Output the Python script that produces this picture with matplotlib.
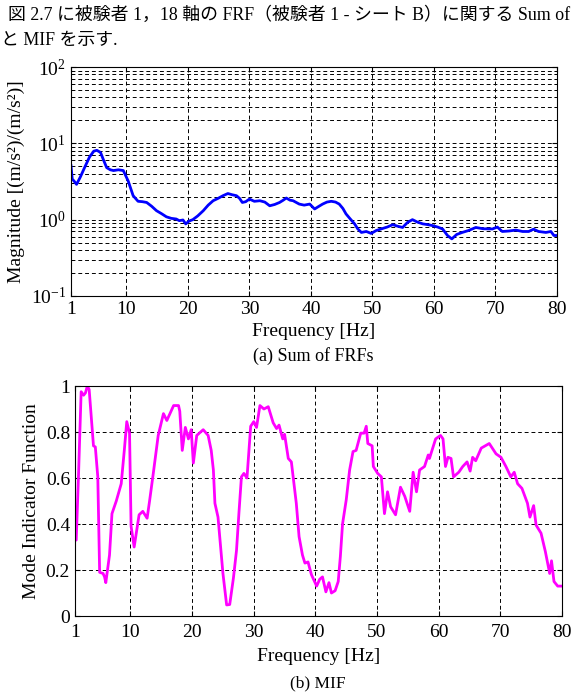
import numpy as np
import matplotlib
matplotlib.use("Agg")
import matplotlib.pyplot as plt
from matplotlib.ticker import LogLocator, NullFormatter

plt.rcParams['font.family'] = ['Liberation Serif', 'Noto Sans CJK JP', 'DejaVu Sans']
plt.rcParams['mathtext.fontset'] = 'stix'

# (a) Sum of FRFs
freq_a = [1.0, 1.2, 1.5, 1.9, 2.5, 3.2, 4.0, 4.7, 5.2, 5.8, 6.3, 6.8, 7.4, 7.9, 8.7,
          9.5, 10.3, 11.1, 11.9, 12.6, 13.3, 14.1, 14.9, 15.7, 16.5, 17.3, 18.1, 18.6,
          19.2, 19.65, 20.2, 20.8, 21.6, 22.5, 23.3, 24.1, 24.9, 25.7, 26.5, 27.2, 27.9,
          28.4, 28.85, 29.4, 30.0, 30.8, 31.7, 32.5, 33.3, 34.1, 34.9, 35.5, 36.0, 36.6,
          37.1, 38.1, 38.9, 39.8, 40.6, 41.2, 41.9, 42.6, 43.3, 44.0, 44.6, 45.2, 45.7,
          46.4, 47.1, 47.6, 48.2, 49.0, 49.8, 50.6, 51.4, 52.4, 53.3, 54.1, 54.9, 55.7,
          56.5, 57.3, 58.2, 59.0, 59.8, 60.6, 61.4, 62.2, 62.9, 63.7, 64.6, 65.6, 66.8,
          68.0, 69.5, 70.3, 71.1, 72.2, 73.3, 74.4, 75.4, 76.2, 77.0, 78.2, 79.0, 79.5, 80.0]
sum_frf = [5.1, 3.4, 3.2, 2.9, 3.6, 4.8, 6.6, 7.9, 8.1, 7.6, 6.0, 4.8, 4.5, 4.4, 4.5,
           4.4, 3.2, 2.06, 1.74, 1.72, 1.68, 1.5, 1.31, 1.2, 1.09, 1.04, 1.02, 0.97,
           0.99, 0.88, 0.96, 1.0, 1.12, 1.31, 1.55, 1.77, 1.9, 2.06, 2.2, 2.12, 2.06,
           1.9, 1.68, 1.72, 1.86, 1.74, 1.77, 1.7, 1.52, 1.58, 1.68, 1.8, 1.92, 1.8,
           1.77, 1.6, 1.55, 1.6, 1.38, 1.48, 1.6, 1.7, 1.74, 1.7, 1.6, 1.4, 1.19,
           1.02, 0.88, 0.76, 0.68, 0.70, 0.66, 0.72, 0.755, 0.80, 0.86, 0.82, 0.79, 0.92,
           1.0, 0.93, 0.88, 0.86, 0.835, 0.80, 0.755, 0.62, 0.56, 0.64, 0.68, 0.72, 0.79,
           0.76, 0.755, 0.80, 0.70, 0.71, 0.73, 0.70, 0.70, 0.75, 0.70, 0.68, 0.70, 0.62, 0.62]

# (b) MIF
freq_b = [1.0, 1.2, 1.6, 2.0, 2.4, 2.7, 3.0, 3.3, 3.6, 4.0, 4.3, 4.7, 5.0, 5.55, 5.8,
          6.0, 6.6, 7.0, 7.7, 8.5, 9.0, 9.4, 9.85, 10.1, 10.6, 11.4, 12.0, 12.7, 13.1,
          13.7, 14.5, 15.35, 15.9, 16.4, 17.0, 17.8, 18.0, 18.4, 18.9, 19.4, 19.85, 20.2,
          20.75, 21.8, 22.6, 23.1, 23.45, 23.7, 24.2, 25.0, 25.6, 26.1, 26.7, 27.2, 27.6,
          28.0, 28.4, 28.9, 29.5, 30.0, 30.45, 31.0, 31.65, 32.35, 33.15, 33.7, 34.1,
          34.7, 35.0, 35.6, 36.1, 36.9, 37.35, 37.9, 38.3, 38.8, 39.35, 40.2, 40.7, 41.15,
          41.7, 42.2, 42.6, 43.2, 43.7, 44.05, 44.4, 45.0, 45.55, 46.1, 46.6, 47.35, 47.9,
          48.25, 48.5, 49.2, 49.4, 50.1, 50.7, 51.2, 51.7, 52.2, 53.0, 53.8, 54.5, 55.3,
          55.85, 56.4, 56.9, 57.7, 58.3, 58.5, 59.5, 60.3, 60.7, 61.1, 61.5, 62.0, 62.4,
          63.25, 63.9, 64.6, 65.1, 65.5, 66.0, 66.9, 68.2, 69.3, 70.1, 70.9, 71.7, 72.25,
          72.8, 73.5, 74.4, 74.8, 75.4, 75.8, 76.6, 77.3, 78.0, 78.3, 78.7, 79.3, 80.0]
mif = [0.33, 0.33, 0.635, 0.975, 0.96, 0.97, 1.0, 0.985, 0.88, 0.74, 0.735, 0.605, 0.19,
       0.185, 0.17, 0.145, 0.265, 0.445, 0.5, 0.575, 0.72, 0.845, 0.795, 0.39, 0.3, 0.44,
       0.455, 0.425, 0.5, 0.62, 0.785, 0.88, 0.85, 0.88, 0.915, 0.915, 0.89, 0.72, 0.82,
       0.77, 0.81, 0.665, 0.785, 0.81, 0.785, 0.72, 0.635, 0.49, 0.43, 0.185, 0.048, 0.05,
       0.165, 0.285, 0.45, 0.605, 0.62, 0.6, 0.825, 0.845, 0.82, 0.915, 0.9, 0.91, 0.84,
       0.815, 0.83, 0.77, 0.79, 0.685, 0.67, 0.49, 0.345, 0.265, 0.23, 0.235, 0.18, 0.13,
       0.16, 0.17, 0.105, 0.145, 0.1, 0.11, 0.15, 0.26, 0.4, 0.505, 0.635, 0.715, 0.72,
       0.795, 0.795, 0.825, 0.75, 0.74, 0.65, 0.62, 0.605, 0.445, 0.54, 0.475, 0.44, 0.56,
       0.52, 0.455, 0.625, 0.54, 0.635, 0.65, 0.7, 0.685, 0.77, 0.785, 0.77, 0.65, 0.69,
       0.685, 0.605, 0.625, 0.65, 0.67, 0.63, 0.69, 0.675, 0.73, 0.75, 0.705, 0.69, 0.65,
       0.605, 0.625, 0.575, 0.555, 0.49, 0.43, 0.48, 0.395, 0.36, 0.28, 0.185, 0.24, 0.15,
       0.13, 0.13]

x_ticks = [1, 10, 20, 30, 40, 50, 60, 70, 80]
mif_ticks = [0, 0.2, 0.4, 0.6, 0.8, 1]
mif_tick_labels = ['0', '0.2', '0.4', '0.6', '0.8', '1']

fig = plt.figure(figsize=(5.75, 6.93), dpi=100)

# header text (the page text above the figure)
fig.text(0.014, 0.978, "図 2.7 に被験者 1，18 軸の FRF（被験者 1 - シート B）に関する Sum of",
         fontsize=12.9, va='center', ha='left')
fig.text(0.002, 0.942, "と MIF を示す.", fontsize=12.9, va='center', ha='left')

grid_kw = dict(color='black', linestyle=(0, (4, 3)), linewidth=0.7)
fs = 14

# top: Sum of FRFs
ax1 = fig.add_axes([0.1235, 0.5729, 0.8452, 0.3304])
ax1.semilogy(freq_a, sum_frf, color='#0000ff', linewidth=2)
ax1.set_xlim(1, 80)
ax1.set_ylim(0.1, 100)
ax1.set_xticks(x_ticks)
ax1.yaxis.set_major_locator(LogLocator(base=10, numticks=10))
ax1.yaxis.set_minor_locator(LogLocator(base=10, subs=np.arange(2, 10), numticks=10))
ax1.yaxis.set_minor_formatter(NullFormatter())
ax1.grid(True, which='both', axis='y', **grid_kw)
ax1.grid(True, which='major', axis='x', **grid_kw)
ax1.tick_params(which='both', direction='in', top=True, right=True, labelsize=fs)
ax1.set_xlabel('Frequency [Hz]', fontsize=fs, labelpad=4)
ax1.set_ylabel('Magnitude [(m/s²)/(m/s²)]', fontsize=fs, labelpad=4)
fig.text(0.545, 1 - 356 / 693, '(a) Sum of FRFs', fontsize=13, ha='center', va='center')

# bottom: MIF
ax2 = fig.add_axes([0.1304, 0.1111, 0.847, 0.3319])
ax2.plot(freq_b, mif, color='#ff00ff', linewidth=2)
ax2.set_xlim(1, 80)
ax2.set_ylim(0, 1)
ax2.set_xticks(x_ticks)
ax2.set_yticks(mif_ticks)
ax2.set_yticklabels(mif_tick_labels)
ax2.grid(True, **grid_kw)
ax2.tick_params(direction='in', top=True, right=True, labelsize=fs)
ax2.tick_params(axis='x', pad=6)
ax2.set_xlabel('Frequency [Hz]', fontsize=fs, labelpad=5)
ax2.set_ylabel('Mode Indicator Function', fontsize=fs, labelpad=4)
fig.text(0.553, 1 - 683 / 693, '(b) MIF', fontsize=12.5, ha='center', va='center')

fig.savefig('out.png', dpi=100)
